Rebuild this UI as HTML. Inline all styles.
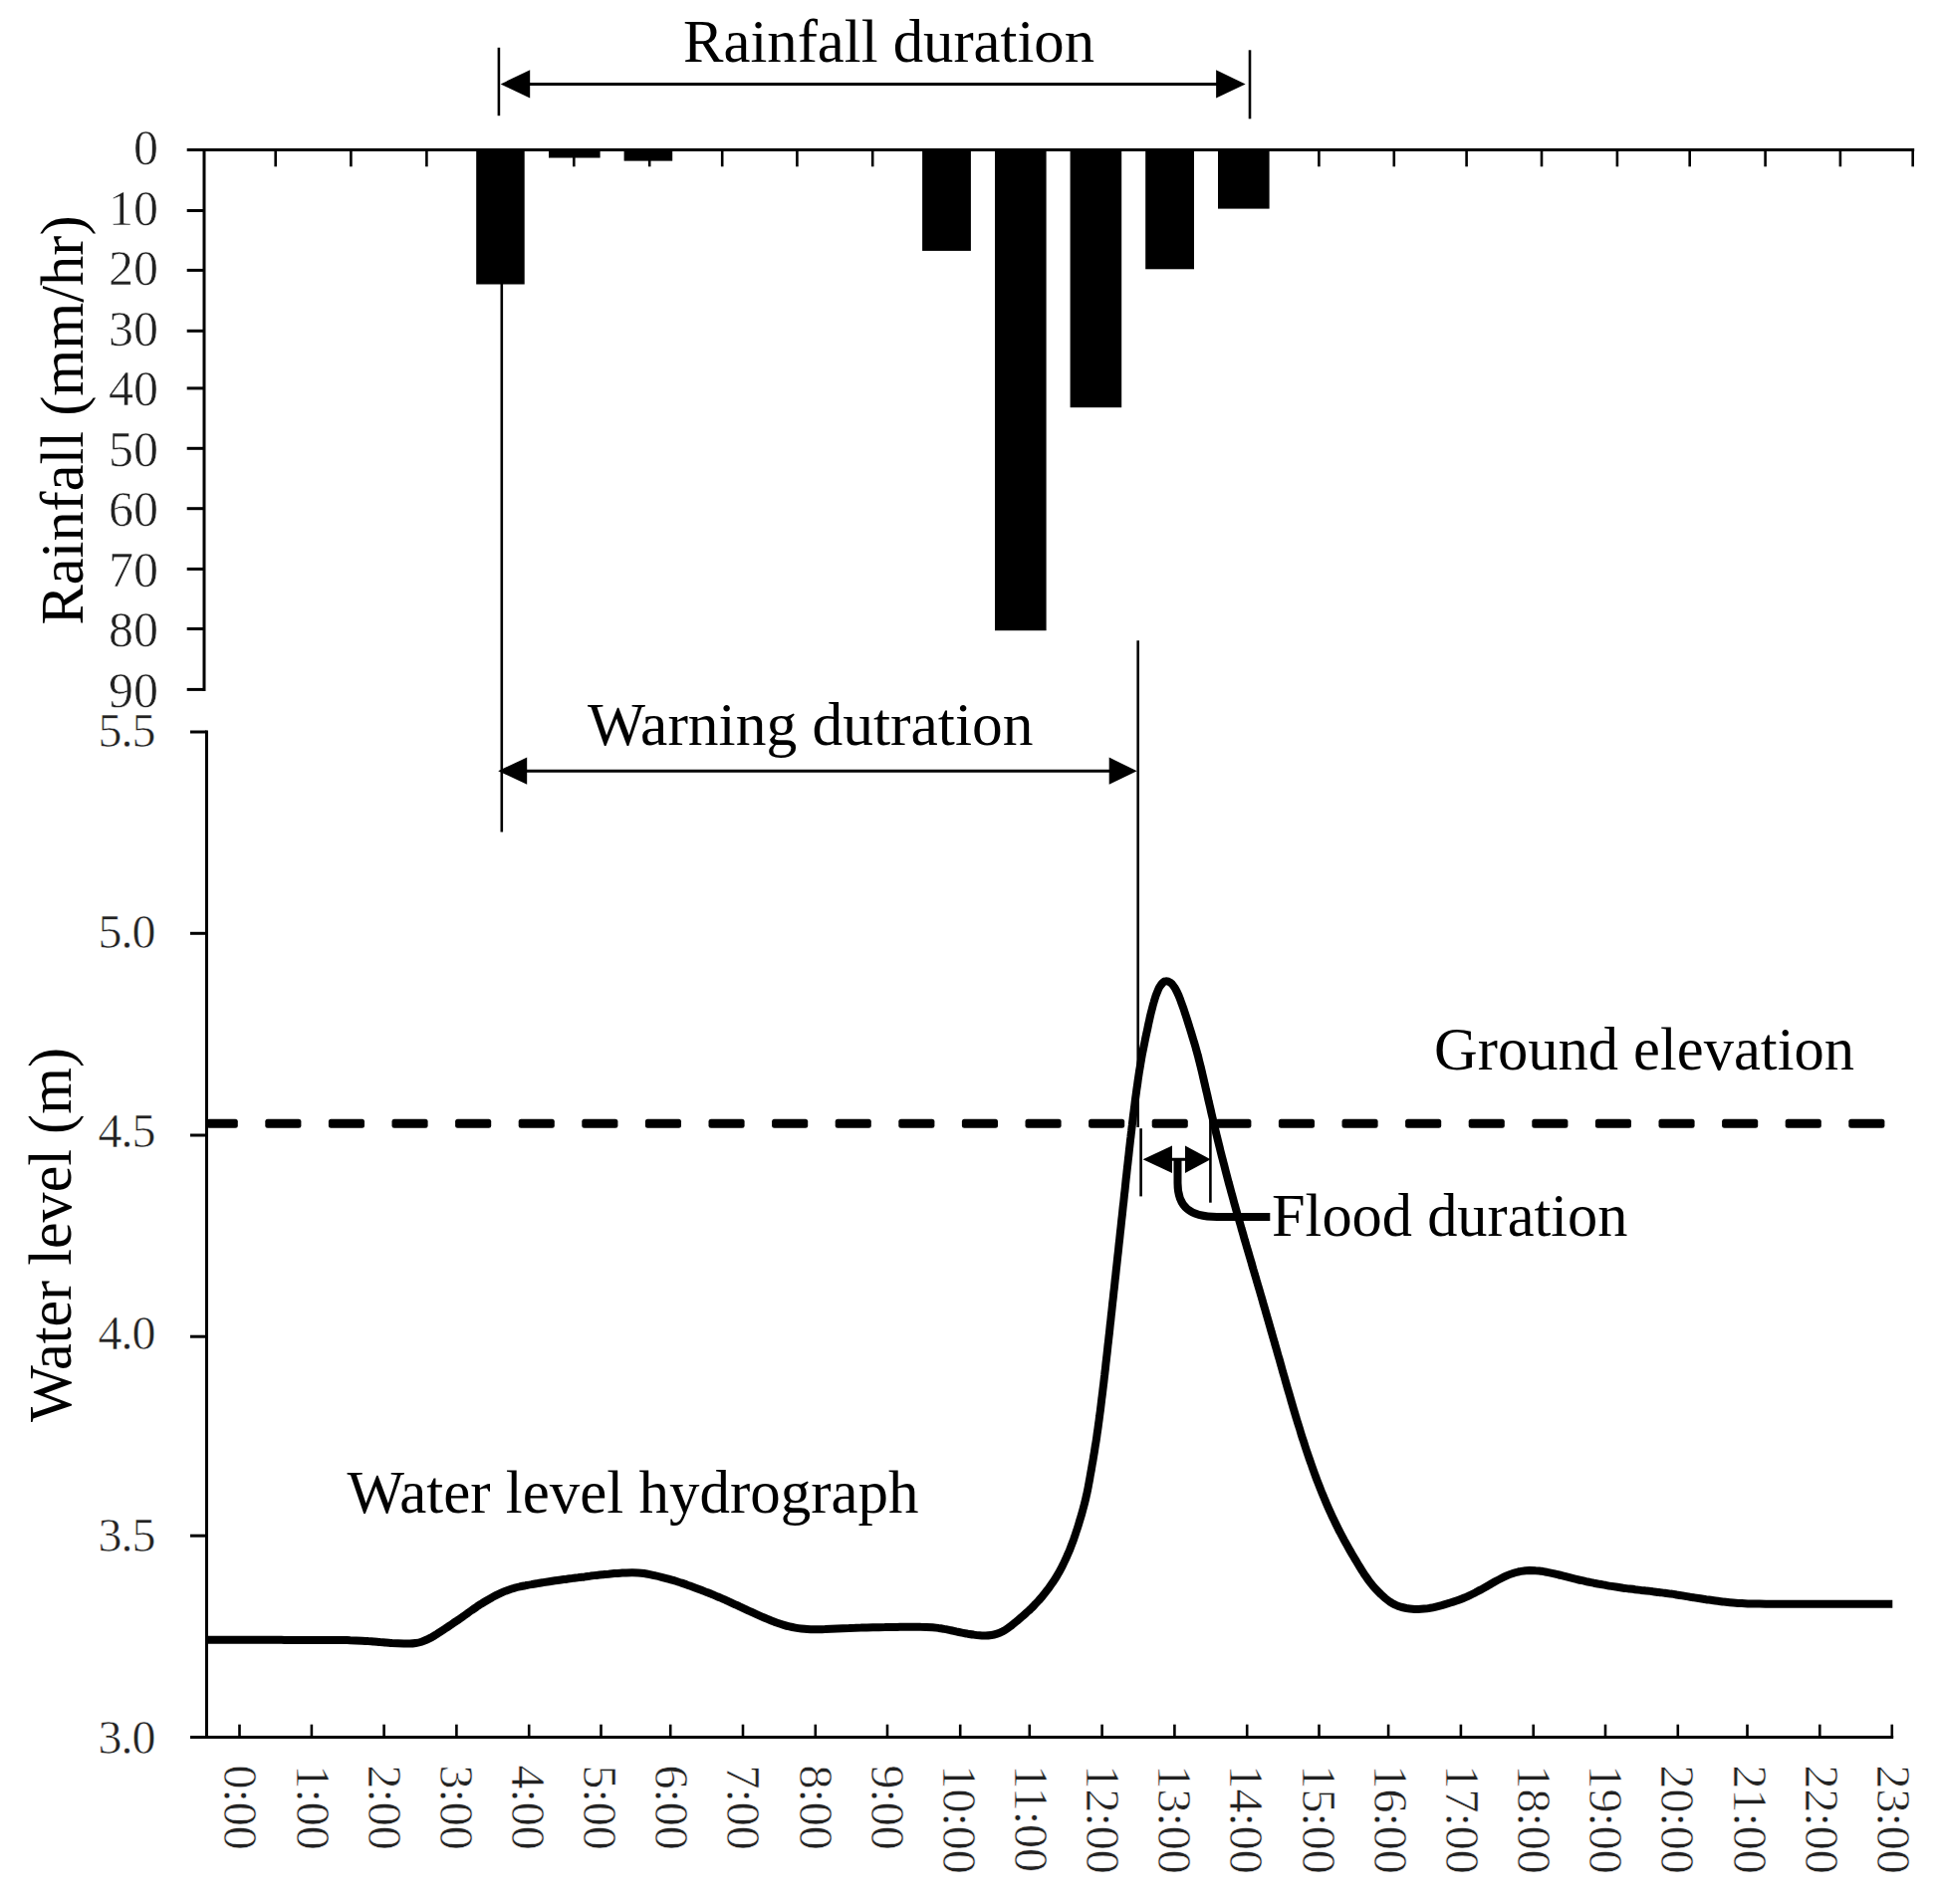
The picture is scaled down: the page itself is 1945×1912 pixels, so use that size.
<!DOCTYPE html>
<html lang="en"><head><meta charset="utf-8"><title>Rainfall and water level hydrograph</title>
<style>html,body{margin:0;padding:0;background:#fff;}body{width:1945px;height:1912px;overflow:hidden;}svg{display:block;}text{font-family:"Liberation Serif",serif;fill:#000;}.big{font-size:61px;}.tk{font-size:50px;}.tk2{font-size:48px;letter-spacing:-1px;}.xl{font-size:48px;}.tk,.tk2,.xl{fill:#222;stroke:#fff;stroke-width:.55px;}.ax{stroke:#000;stroke-width:3;fill:none;}.thin{stroke:#000;stroke-width:2.6;fill:none;}</style></head><body>
<svg width="1945" height="1912" viewBox="0 0 1945 1912">
<rect width="1945" height="1912" fill="#fff"/>
<g class="ax">
<path d="M187.7 150.6H1922.2"/>
<path d="M205.0 150.6V693.9"/>
<path d="M187.7 211.5H205.0"/>
<path d="M187.7 271.4H205.0"/>
<path d="M187.7 332.3H205.0"/>
<path d="M187.7 389.9H205.0"/>
<path d="M187.7 450.3H205.0"/>
<path d="M187.7 510.7H205.0"/>
<path d="M187.7 571.4H205.0"/>
<path d="M187.7 631.5H205.0"/>
<path d="M187.7 692.4H205.0"/>
</g>
<g class="thin">
<path d="M276.7 150.6V167.3"/>
<path d="M352.4 150.6V167.3"/>
<path d="M428.4 150.6V167.3"/>
<path d="M502.5 150.6V167.3"/>
<path d="M576.3 150.6V167.3"/>
<path d="M652.2 150.6V167.3"/>
<path d="M725.2 150.6V167.3"/>
<path d="M800.4 150.6V167.3"/>
<path d="M876.2 150.6V167.3"/>
<path d="M950.5 150.6V167.3"/>
<path d="M1025.0 150.6V167.3"/>
<path d="M1100.0 150.6V167.3"/>
<path d="M1174.6 150.6V167.3"/>
<path d="M1249.0 150.6V167.3"/>
<path d="M1324.4 150.6V167.3"/>
<path d="M1399.8 150.6V167.3"/>
<path d="M1472.6 150.6V167.3"/>
<path d="M1548.0 150.6V167.3"/>
<path d="M1623.9 150.6V167.3"/>
<path d="M1696.7 150.6V167.3"/>
<path d="M1772.6 150.6V167.3"/>
<path d="M1847.9 150.6V167.3"/>
<path d="M1920.7 150.6V167.3"/>
</g>
<rect x="478.2" y="149.1" width="48.5" height="136.4" fill="#000"/>
<rect x="551.0" y="149.1" width="51.6" height="9.4" fill="#000"/>
<rect x="626.6" y="149.1" width="48.6" height="12.5" fill="#000"/>
<rect x="926.1" y="149.1" width="48.8" height="102.8" fill="#000"/>
<rect x="999.0" y="149.1" width="51.6" height="484.1" fill="#000"/>
<rect x="1074.6" y="149.1" width="51.6" height="260.1" fill="#000"/>
<rect x="1150.2" y="149.1" width="48.8" height="121.2" fill="#000"/>
<rect x="1223.0" y="149.1" width="51.6" height="60.5" fill="#000"/>
<text class="tk" x="159" y="165.0" text-anchor="end">0</text>
<text class="tk" x="159" y="225.5" text-anchor="end">10</text>
<text class="tk" x="159" y="286.0" text-anchor="end">20</text>
<text class="tk" x="159" y="346.5" text-anchor="end">30</text>
<text class="tk" x="159" y="407.0" text-anchor="end">40</text>
<text class="tk" x="159" y="467.5" text-anchor="end">50</text>
<text class="tk" x="159" y="528.0" text-anchor="end">60</text>
<text class="tk" x="159" y="588.5" text-anchor="end">70</text>
<text class="tk" x="159" y="649.0" text-anchor="end">80</text>
<text class="tk" x="159" y="709.5" text-anchor="end">90</text>
<text class="big" transform="translate(82.6 422) rotate(-90)" text-anchor="middle" textLength="411" lengthAdjust="spacingAndGlyphs">Rainfall (mm/hr)</text>
<g class="thin">
<path d="M500.9 47.8V116.2"/><path d="M1255 50.3V119.3"/>
<path d="M520 84.4H1235" style="stroke-width:3"/>
</g>
<path d="M502.7 84.4L532.2 70.2L532.2 98.6Z" fill="#000"/>
<path d="M1250.6 84.4L1221.1 70.2L1221.1 98.6Z" fill="#000"/>
<text class="big" x="686" y="62" textLength="413" lengthAdjust="spacingAndGlyphs">Rainfall duration</text>
<g class="thin">
<path d="M503.8 285V835.4"/>
<path d="M1142.7 643.3V1132"/>
<path d="M520 774.2H1125" style="stroke-width:3"/>
</g>
<path d="M500.2 774.2L529.2 760.6L529.2 787.8Z" fill="#000"/>
<path d="M1141.7 774.2L1113.7 760.6L1113.7 787.8Z" fill="#000"/>
<text class="big" x="590" y="748.2" textLength="447.5" lengthAdjust="spacingAndGlyphs">Warning dutration</text>
<g class="ax">
<path d="M207.5 733.5V1744.6"/>
<path d="M191 1744.6H1901.2"/>
<path d="M191 735.0H207.5"/>
<path d="M191 937.3H207.5"/>
<path d="M191 1140.0H207.5"/>
<path d="M191 1342.2H207.5"/>
<path d="M191 1542.2H207.5"/>
</g>
<g class="thin">
<path d="M240.5 1731.7V1744.6"/>
<path d="M312.9 1731.7V1744.6"/>
<path d="M385.6 1731.7V1744.6"/>
<path d="M458.4 1731.7V1744.6"/>
<path d="M531.2 1731.7V1744.6"/>
<path d="M603.5 1731.7V1744.6"/>
<path d="M673.2 1731.7V1744.6"/>
<path d="M746.0 1731.7V1744.6"/>
<path d="M818.8 1731.7V1744.6"/>
<path d="M891.0 1731.7V1744.6"/>
<path d="M964.2 1731.7V1744.6"/>
<path d="M1033.8 1731.7V1744.6"/>
<path d="M1106.6 1731.7V1744.6"/>
<path d="M1179.4 1731.7V1744.6"/>
<path d="M1252.2 1731.7V1744.6"/>
<path d="M1324.5 1731.7V1744.6"/>
<path d="M1394.1 1731.7V1744.6"/>
<path d="M1466.9 1731.7V1744.6"/>
<path d="M1539.7 1731.7V1744.6"/>
<path d="M1612.0 1731.7V1744.6"/>
<path d="M1684.8 1731.7V1744.6"/>
<path d="M1754.5 1731.7V1744.6"/>
<path d="M1827.3 1731.7V1744.6"/>
<path d="M1899.8 1731.7V1744.6"/>
</g>
<text class="tk2" x="155.5" y="749.8" text-anchor="end">5.5</text>
<text class="tk2" x="155.5" y="952.1" text-anchor="end">5.0</text>
<text class="tk2" x="155.5" y="1152.0" text-anchor="end">4.5</text>
<text class="tk2" x="155.5" y="1355.2" text-anchor="end">4.0</text>
<text class="tk2" x="155.5" y="1557.9" text-anchor="end">3.5</text>
<text class="tk2" x="155.5" y="1760.8" text-anchor="end">3.0</text>
<text class="xl" transform="translate(225.3 1772.5) rotate(90)">0:00</text>
<text class="xl" transform="translate(297.5 1772.5) rotate(90)">1:00</text>
<text class="xl" transform="translate(369.6 1772.5) rotate(90)">2:00</text>
<text class="xl" transform="translate(441.8 1772.5) rotate(90)">3:00</text>
<text class="xl" transform="translate(513.9 1772.5) rotate(90)">4:00</text>
<text class="xl" transform="translate(586.0 1772.5) rotate(90)">5:00</text>
<text class="xl" transform="translate(658.2 1772.5) rotate(90)">6:00</text>
<text class="xl" transform="translate(730.4 1772.5) rotate(90)">7:00</text>
<text class="xl" transform="translate(802.5 1772.5) rotate(90)">8:00</text>
<text class="xl" transform="translate(874.7 1772.5) rotate(90)">9:00</text>
<text class="xl" transform="translate(946.8 1772.5) rotate(90)">10:00</text>
<text class="xl" transform="translate(1019.0 1772.5) rotate(90)">11:00</text>
<text class="xl" transform="translate(1091.1 1772.5) rotate(90)">12:00</text>
<text class="xl" transform="translate(1163.2 1772.5) rotate(90)">13:00</text>
<text class="xl" transform="translate(1235.4 1772.5) rotate(90)">14:00</text>
<text class="xl" transform="translate(1307.5 1772.5) rotate(90)">15:00</text>
<text class="xl" transform="translate(1379.7 1772.5) rotate(90)">16:00</text>
<text class="xl" transform="translate(1451.9 1772.5) rotate(90)">17:00</text>
<text class="xl" transform="translate(1524.0 1772.5) rotate(90)">18:00</text>
<text class="xl" transform="translate(1596.2 1772.5) rotate(90)">19:00</text>
<text class="xl" transform="translate(1668.3 1772.5) rotate(90)">20:00</text>
<text class="xl" transform="translate(1740.5 1772.5) rotate(90)">21:00</text>
<text class="xl" transform="translate(1812.6 1772.5) rotate(90)">22:00</text>
<text class="xl" transform="translate(1884.8 1772.5) rotate(90)">23:00</text>
<text class="big" transform="translate(71.4 1240) rotate(-90)" text-anchor="middle" textLength="376" lengthAdjust="spacingAndGlyphs">Water level (m)</text>
<rect x="207.5" y="1123.7" width="31.3" height="9" rx="2.5" fill="#000"/>
<rect x="266.3" y="1123.7" width="36.1" height="9" rx="2.5" fill="#000"/>
<rect x="329.9" y="1123.7" width="36.1" height="9" rx="2.5" fill="#000"/>
<rect x="393.5" y="1123.7" width="36.1" height="9" rx="2.5" fill="#000"/>
<rect x="457.1" y="1123.7" width="36.1" height="9" rx="2.5" fill="#000"/>
<rect x="520.7" y="1123.7" width="36.1" height="9" rx="2.5" fill="#000"/>
<rect x="584.3" y="1123.7" width="36.1" height="9" rx="2.5" fill="#000"/>
<rect x="647.9" y="1123.7" width="36.1" height="9" rx="2.5" fill="#000"/>
<rect x="711.5" y="1123.7" width="36.1" height="9" rx="2.5" fill="#000"/>
<rect x="775.1" y="1123.7" width="36.1" height="9" rx="2.5" fill="#000"/>
<rect x="838.7" y="1123.7" width="36.1" height="9" rx="2.5" fill="#000"/>
<rect x="902.3" y="1123.7" width="36.1" height="9" rx="2.5" fill="#000"/>
<rect x="965.9" y="1123.7" width="36.1" height="9" rx="2.5" fill="#000"/>
<rect x="1029.5" y="1123.7" width="36.1" height="9" rx="2.5" fill="#000"/>
<rect x="1093.1" y="1123.7" width="36.1" height="9" rx="2.5" fill="#000"/>
<rect x="1156.7" y="1123.7" width="36.1" height="9" rx="2.5" fill="#000"/>
<rect x="1220.3" y="1123.7" width="36.1" height="9" rx="2.5" fill="#000"/>
<rect x="1283.9" y="1123.7" width="36.1" height="9" rx="2.5" fill="#000"/>
<rect x="1347.5" y="1123.7" width="36.1" height="9" rx="2.5" fill="#000"/>
<rect x="1411.1" y="1123.7" width="36.1" height="9" rx="2.5" fill="#000"/>
<rect x="1474.7" y="1123.7" width="36.1" height="9" rx="2.5" fill="#000"/>
<rect x="1538.3" y="1123.7" width="36.1" height="9" rx="2.5" fill="#000"/>
<rect x="1601.9" y="1123.7" width="36.1" height="9" rx="2.5" fill="#000"/>
<rect x="1665.5" y="1123.7" width="36.1" height="9" rx="2.5" fill="#000"/>
<rect x="1729.1" y="1123.7" width="36.1" height="9" rx="2.5" fill="#000"/>
<rect x="1792.7" y="1123.7" width="36.1" height="9" rx="2.5" fill="#000"/>
<rect x="1856.3" y="1123.7" width="36.1" height="9" rx="2.5" fill="#000"/>
<path d="M207.6 1646.7C208.7 1646.7 212.4 1646.7 214.5 1646.7C216.5 1646.7 217.9 1646.7 219.8 1646.7C221.7 1646.7 223.7 1646.7 225.7 1646.7C227.7 1646.7 229.7 1646.7 231.7 1646.7C233.7 1646.7 235.7 1646.8 237.7 1646.8C239.7 1646.8 241.7 1646.8 243.7 1646.8C245.7 1646.8 247.7 1646.8 249.7 1646.8C251.7 1646.8 253.7 1646.8 255.7 1646.8C257.7 1646.8 259.7 1646.8 261.7 1646.8C263.7 1646.8 265.7 1646.8 267.7 1646.8C269.7 1646.8 271.7 1646.8 273.7 1646.8C275.7 1646.8 277.7 1646.8 279.7 1646.8C281.7 1646.8 283.7 1646.9 285.7 1646.9C287.7 1646.9 289.7 1646.9 291.7 1646.9C293.7 1646.9 295.7 1646.9 297.7 1646.9C299.7 1646.9 301.7 1646.9 303.7 1646.9C305.7 1646.9 307.7 1646.9 309.7 1646.9C311.7 1646.9 313.7 1646.9 315.7 1646.9C317.7 1646.9 319.7 1646.9 321.7 1646.9C323.7 1646.9 325.7 1646.9 327.7 1646.9C329.7 1646.9 331.7 1646.9 333.7 1646.9C335.7 1646.9 337.7 1646.9 339.7 1646.9C341.7 1646.9 343.7 1647.0 345.7 1647.0C347.7 1647.1 349.7 1647.1 351.7 1647.2C353.7 1647.2 355.7 1647.3 357.7 1647.4C359.7 1647.5 361.7 1647.6 363.7 1647.7C365.7 1647.8 367.7 1647.9 369.7 1648.1C371.7 1648.2 373.7 1648.4 375.7 1648.5C377.6 1648.7 379.6 1648.8 381.6 1649.0C383.6 1649.1 385.6 1649.3 387.6 1649.4C389.6 1649.6 391.6 1649.7 393.6 1649.9C395.6 1650.0 397.6 1650.1 399.6 1650.2C401.6 1650.3 403.6 1650.4 405.6 1650.5C407.6 1650.5 409.6 1650.6 411.5 1650.5C413.5 1650.5 415.5 1650.3 417.4 1650.0C419.4 1649.7 421.3 1649.3 423.2 1648.7C425.0 1648.1 426.9 1647.3 428.7 1646.5C430.5 1645.7 432.2 1644.7 434.0 1643.8C435.7 1642.8 437.4 1641.7 439.1 1640.7C440.8 1639.6 442.5 1638.5 444.2 1637.4C445.8 1636.4 447.5 1635.2 449.2 1634.1C450.8 1633.0 452.5 1631.9 454.1 1630.8C455.8 1629.6 457.4 1628.5 459.1 1627.4C460.7 1626.3 462.4 1625.1 464.0 1624.0C465.6 1622.8 467.3 1621.6 468.9 1620.5C470.5 1619.3 472.1 1618.1 473.8 1617.0C475.4 1615.8 477.0 1614.7 478.7 1613.6C480.4 1612.4 482.0 1611.4 483.7 1610.3C485.4 1609.2 487.1 1608.2 488.8 1607.2C490.6 1606.2 492.3 1605.2 494.1 1604.2C495.8 1603.3 497.6 1602.3 499.4 1601.4C501.2 1600.6 503.0 1599.7 504.8 1598.9C506.6 1598.1 508.5 1597.4 510.4 1596.7C512.2 1596.0 514.1 1595.4 516.0 1594.9C518.0 1594.3 519.9 1593.8 521.8 1593.4C523.8 1592.9 525.8 1592.5 527.7 1592.2C529.7 1591.8 531.6 1591.4 533.6 1591.1C535.6 1590.7 537.6 1590.4 539.5 1590.1C541.5 1589.7 543.5 1589.4 545.4 1589.1C547.4 1588.8 549.4 1588.5 551.4 1588.2C553.4 1587.9 555.3 1587.6 557.3 1587.3C559.3 1587.1 561.3 1586.8 563.3 1586.5C565.2 1586.2 567.2 1586.0 569.2 1585.7C571.2 1585.4 573.2 1585.2 575.1 1584.9C577.1 1584.6 579.1 1584.4 581.1 1584.1C583.1 1583.9 585.1 1583.6 587.1 1583.4C589.0 1583.1 591.0 1582.9 593.0 1582.6C595.0 1582.4 597.0 1582.2 599.0 1581.9C601.0 1581.7 602.9 1581.5 604.9 1581.3C606.9 1581.1 608.9 1580.8 610.9 1580.7C612.9 1580.5 614.9 1580.3 616.9 1580.1C618.9 1580.0 620.9 1579.8 622.9 1579.7C624.8 1579.6 626.8 1579.4 628.8 1579.4C630.8 1579.3 632.8 1579.2 634.8 1579.2C636.8 1579.2 638.8 1579.3 640.8 1579.4C642.8 1579.5 644.8 1579.7 646.7 1580.0C648.7 1580.3 650.7 1580.7 652.6 1581.1C654.6 1581.5 656.5 1581.9 658.5 1582.4C660.4 1582.8 662.4 1583.3 664.3 1583.8C666.2 1584.3 668.2 1584.8 670.1 1585.3C672.0 1585.8 674.0 1586.4 675.9 1586.9C677.8 1587.5 679.7 1588.1 681.6 1588.7C683.5 1589.3 685.4 1590.0 687.3 1590.6C689.2 1591.3 691.1 1591.9 692.9 1592.6C694.8 1593.3 696.7 1594.0 698.6 1594.7C700.5 1595.4 702.3 1596.1 704.2 1596.8C706.1 1597.5 707.9 1598.3 709.8 1599.0C711.6 1599.7 713.5 1600.5 715.4 1601.2C717.2 1602.0 719.1 1602.7 720.9 1603.5C722.7 1604.3 724.6 1605.0 726.4 1605.8C728.3 1606.6 730.1 1607.5 731.9 1608.3C733.7 1609.1 735.5 1610.0 737.3 1610.8C739.2 1611.7 741.0 1612.5 742.8 1613.4C744.6 1614.2 746.4 1615.1 748.2 1615.9C750.0 1616.8 751.8 1617.6 753.7 1618.4C755.5 1619.3 757.3 1620.1 759.1 1620.9C760.9 1621.7 762.8 1622.5 764.6 1623.3C766.4 1624.1 768.3 1624.9 770.1 1625.7C772.0 1626.5 773.8 1627.2 775.7 1627.9C777.5 1628.7 779.4 1629.4 781.3 1630.0C783.2 1630.7 785.1 1631.3 787.0 1631.9C788.9 1632.5 790.8 1633.0 792.8 1633.4C794.7 1633.9 796.7 1634.3 798.6 1634.6C800.6 1635.0 802.6 1635.3 804.6 1635.5C806.5 1635.7 808.5 1635.9 810.5 1636.0C812.5 1636.1 814.5 1636.2 816.5 1636.2C818.5 1636.3 820.5 1636.3 822.5 1636.2C824.5 1636.2 826.5 1636.1 828.5 1636.1C830.5 1636.0 832.5 1635.9 834.5 1635.8C836.5 1635.7 838.5 1635.6 840.5 1635.5C842.5 1635.4 844.5 1635.3 846.5 1635.2C848.5 1635.1 850.5 1635.0 852.5 1635.0C854.5 1634.9 856.5 1634.8 858.5 1634.8C860.5 1634.7 862.5 1634.6 864.5 1634.6C866.5 1634.5 868.5 1634.5 870.5 1634.4C872.5 1634.4 874.5 1634.4 876.5 1634.3C878.5 1634.3 880.5 1634.2 882.5 1634.2C884.5 1634.1 886.5 1634.1 888.5 1634.1C890.5 1634.0 892.5 1634.0 894.5 1634.0C896.5 1633.9 898.5 1633.9 900.5 1633.9C902.5 1633.9 904.5 1633.8 906.5 1633.8C908.5 1633.8 910.5 1633.8 912.5 1633.8C914.5 1633.8 916.5 1633.7 918.5 1633.7C920.5 1633.7 922.5 1633.7 924.5 1633.8C926.5 1633.8 928.5 1633.8 930.4 1633.9C932.4 1634.0 934.4 1634.1 936.4 1634.2C938.4 1634.4 940.4 1634.6 942.4 1634.9C944.4 1635.1 946.3 1635.5 948.3 1635.9C950.2 1636.2 952.2 1636.7 954.2 1637.1C956.1 1637.5 958.1 1637.9 960.0 1638.4C962.0 1638.8 963.9 1639.2 965.9 1639.6C967.8 1640.0 969.8 1640.3 971.8 1640.7C973.7 1641.0 975.7 1641.4 977.7 1641.6C979.7 1641.9 981.7 1642.2 983.6 1642.3C985.6 1642.5 987.6 1642.6 989.6 1642.5C991.6 1642.5 993.5 1642.3 995.5 1642.0C997.4 1641.7 999.3 1641.2 1001.2 1640.6C1003.1 1640.0 1004.9 1639.2 1006.6 1638.4C1008.4 1637.5 1010.1 1636.4 1011.7 1635.3C1013.3 1634.2 1014.9 1632.9 1016.4 1631.7C1018.0 1630.4 1019.5 1629.1 1021.1 1627.9C1022.6 1626.6 1024.1 1625.3 1025.6 1624.0C1027.2 1622.7 1028.7 1621.4 1030.2 1620.0C1031.6 1618.7 1033.1 1617.4 1034.6 1616.0C1036.0 1614.6 1037.4 1613.2 1038.8 1611.7C1040.2 1610.3 1041.6 1608.8 1042.9 1607.4C1044.2 1605.9 1045.5 1604.3 1046.8 1602.8C1048.1 1601.3 1049.3 1599.7 1050.5 1598.1C1051.8 1596.6 1053.0 1595.0 1054.1 1593.3C1055.3 1591.7 1056.4 1590.1 1057.6 1588.4C1058.7 1586.7 1059.7 1585.1 1060.8 1583.3C1061.8 1581.6 1062.8 1579.9 1063.8 1578.2C1064.7 1576.4 1065.7 1574.6 1066.6 1572.9C1067.5 1571.1 1068.4 1569.3 1069.2 1567.5C1070.1 1565.7 1070.9 1563.9 1071.7 1562.0C1072.5 1560.2 1073.3 1558.4 1074.1 1556.5C1074.8 1554.7 1075.5 1552.8 1076.2 1550.9C1076.9 1549.1 1077.6 1547.2 1078.3 1545.3C1078.9 1543.4 1079.6 1541.5 1080.2 1539.6C1080.8 1537.7 1081.5 1535.8 1082.1 1533.9C1082.7 1532.0 1083.3 1530.1 1083.8 1528.2C1084.4 1526.3 1085.0 1524.3 1085.6 1522.4C1086.1 1520.5 1086.7 1518.6 1087.2 1516.6C1087.7 1514.7 1088.2 1512.8 1088.7 1510.9C1089.2 1508.9 1089.7 1507.0 1090.2 1505.0C1090.6 1503.1 1091.0 1501.1 1091.5 1499.2C1091.9 1497.2 1092.3 1495.3 1092.7 1493.3C1093.0 1491.3 1093.4 1489.4 1093.8 1487.4C1094.1 1485.4 1094.5 1483.5 1094.8 1481.5C1095.2 1479.5 1095.5 1477.6 1095.9 1475.6C1096.2 1473.6 1096.6 1471.6 1096.9 1469.7C1097.3 1467.7 1097.6 1465.7 1097.9 1463.8C1098.2 1461.8 1098.6 1459.8 1098.9 1457.8C1099.2 1455.9 1099.5 1453.9 1099.8 1451.9C1100.2 1449.9 1100.5 1448.0 1100.8 1446.0C1101.1 1444.0 1101.4 1442.0 1101.6 1440.1C1101.9 1438.1 1102.2 1436.1 1102.5 1434.1C1102.8 1432.1 1103.0 1430.1 1103.3 1428.2C1103.6 1426.2 1103.8 1424.2 1104.1 1422.2C1104.3 1420.2 1104.6 1418.3 1104.9 1416.3C1105.1 1414.3 1105.4 1412.3 1105.6 1410.3C1105.9 1408.3 1106.1 1406.3 1106.3 1404.4C1106.6 1402.4 1106.8 1400.4 1107.1 1398.4C1107.3 1396.4 1107.5 1394.4 1107.8 1392.4C1108.0 1390.5 1108.3 1388.5 1108.5 1386.5C1108.7 1384.5 1108.9 1382.5 1109.2 1380.5C1109.4 1378.5 1109.6 1376.6 1109.9 1374.6C1110.1 1372.6 1110.3 1370.6 1110.5 1368.6C1110.8 1366.6 1111.0 1364.6 1111.2 1362.6C1111.4 1360.7 1111.7 1358.7 1111.9 1356.7C1112.1 1354.7 1112.3 1352.7 1112.5 1350.7C1112.8 1348.7 1113.0 1346.7 1113.2 1344.8C1113.4 1342.8 1113.6 1340.8 1113.9 1338.8C1114.1 1336.8 1114.3 1334.8 1114.5 1332.8C1114.7 1330.8 1114.9 1328.8 1115.2 1326.9C1115.4 1324.9 1115.6 1322.9 1115.8 1320.9C1116.0 1318.9 1116.3 1316.9 1116.5 1314.9C1116.7 1312.9 1116.9 1311.0 1117.1 1309.0C1117.3 1307.0 1117.6 1305.0 1117.8 1303.0C1118.0 1301.0 1118.2 1299.0 1118.4 1297.0C1118.7 1295.1 1118.9 1293.1 1119.1 1291.1C1119.3 1289.1 1119.5 1287.1 1119.7 1285.1C1120.0 1283.1 1120.2 1281.1 1120.4 1279.1C1120.6 1277.2 1120.8 1275.2 1121.0 1273.2C1121.3 1271.2 1121.5 1269.2 1121.7 1267.2C1121.9 1265.2 1122.1 1263.2 1122.3 1261.3C1122.6 1259.3 1122.8 1257.3 1123.0 1255.3C1123.2 1253.3 1123.4 1251.3 1123.6 1249.3C1123.9 1247.3 1124.1 1245.3 1124.3 1243.4C1124.5 1241.4 1124.7 1239.4 1124.9 1237.4C1125.2 1235.4 1125.4 1233.4 1125.6 1231.4C1125.8 1229.4 1126.0 1227.5 1126.2 1225.5C1126.4 1223.5 1126.7 1221.5 1126.9 1219.5C1127.1 1217.5 1127.3 1215.5 1127.5 1213.5C1127.7 1211.5 1127.9 1209.6 1128.2 1207.6C1128.4 1205.6 1128.6 1203.6 1128.8 1201.6C1129.0 1199.6 1129.2 1197.6 1129.5 1195.6C1129.7 1193.6 1129.9 1191.7 1130.1 1189.7C1130.3 1187.7 1130.5 1185.7 1130.7 1183.7C1131.0 1181.7 1131.2 1179.7 1131.4 1177.7C1131.6 1175.8 1131.8 1173.8 1132.0 1171.8C1132.3 1169.8 1132.5 1167.8 1132.7 1165.8C1132.9 1163.8 1133.1 1161.8 1133.4 1159.8C1133.6 1157.9 1133.8 1155.9 1134.0 1153.9C1134.2 1151.9 1134.5 1149.9 1134.7 1147.9C1134.9 1145.9 1135.1 1143.9 1135.4 1142.0C1135.6 1140.0 1135.8 1138.0 1136.1 1136.0C1136.3 1134.0 1136.5 1132.0 1136.8 1130.0C1137.0 1128.1 1137.2 1126.1 1137.5 1124.1C1137.7 1122.1 1138.0 1120.1 1138.2 1118.1C1138.5 1116.1 1138.7 1114.2 1139.0 1112.2C1139.2 1110.2 1139.5 1108.2 1139.7 1106.2C1140.0 1104.2 1140.2 1102.3 1140.5 1100.3C1140.8 1098.3 1141.1 1096.3 1141.3 1094.3C1141.6 1092.4 1141.9 1090.4 1142.2 1088.4C1142.5 1086.4 1142.7 1084.4 1143.0 1082.5C1143.3 1080.5 1143.6 1078.5 1143.9 1076.5C1144.2 1074.5 1144.6 1072.6 1144.9 1070.6C1145.2 1068.6 1145.5 1066.7 1145.9 1064.7C1146.2 1062.7 1146.6 1060.7 1146.9 1058.8C1147.3 1056.8 1147.7 1054.8 1148.1 1052.9C1148.5 1050.9 1148.9 1049.0 1149.3 1047.0C1149.7 1045.0 1150.1 1043.1 1150.5 1041.1C1150.9 1039.2 1151.3 1037.2 1151.8 1035.3C1152.2 1033.3 1152.6 1031.4 1153.0 1029.4C1153.4 1027.4 1153.9 1025.5 1154.3 1023.5C1154.7 1021.6 1155.1 1019.6 1155.6 1017.7C1156.1 1015.7 1156.6 1013.8 1157.1 1011.9C1157.6 1009.9 1158.1 1008.0 1158.7 1006.1C1159.2 1004.2 1159.8 1002.2 1160.4 1000.4C1161.1 998.5 1161.8 996.6 1162.6 994.8C1163.4 992.9 1164.2 991.0 1165.4 989.5C1166.6 987.9 1168.1 985.9 1169.8 985.5C1171.5 985.0 1173.8 985.8 1175.4 986.8C1176.9 987.7 1178.1 989.7 1179.2 991.3C1180.4 993.0 1181.2 994.8 1182.1 996.6C1183.0 998.4 1183.8 1000.2 1184.5 1002.1C1185.2 1003.9 1185.8 1005.8 1186.5 1007.7C1187.2 1009.6 1187.9 1011.5 1188.6 1013.4C1189.2 1015.3 1189.8 1017.2 1190.5 1019.1C1191.1 1021.0 1191.7 1022.9 1192.3 1024.8C1192.9 1026.7 1193.5 1028.6 1194.1 1030.5C1194.7 1032.4 1195.3 1034.3 1195.9 1036.2C1196.5 1038.1 1197.1 1040.1 1197.6 1042.0C1198.2 1043.9 1198.8 1045.8 1199.4 1047.7C1199.9 1049.6 1200.5 1051.5 1201.0 1053.5C1201.6 1055.4 1202.1 1057.3 1202.6 1059.3C1203.2 1061.2 1203.6 1063.1 1204.1 1065.1C1204.6 1067.0 1205.1 1068.9 1205.6 1070.9C1206.0 1072.8 1206.5 1074.8 1207.0 1076.7C1207.4 1078.7 1207.9 1080.6 1208.3 1082.6C1208.8 1084.5 1209.2 1086.5 1209.7 1088.4C1210.1 1090.4 1210.6 1092.3 1211.0 1094.3C1211.5 1096.2 1211.9 1098.2 1212.4 1100.1C1212.8 1102.1 1213.3 1104.0 1213.7 1106.0C1214.2 1107.9 1214.6 1109.9 1215.1 1111.8C1215.5 1113.8 1216.0 1115.7 1216.4 1117.7C1216.9 1119.6 1217.3 1121.6 1217.8 1123.5C1218.2 1125.4 1218.7 1127.4 1219.1 1129.3C1219.6 1131.3 1220.0 1133.2 1220.5 1135.2C1221.0 1137.1 1221.4 1139.1 1221.9 1141.0C1222.4 1143.0 1222.9 1144.9 1223.3 1146.8C1223.8 1148.8 1224.3 1150.7 1224.8 1152.7C1225.2 1154.6 1225.7 1156.6 1226.2 1158.5C1226.7 1160.4 1227.2 1162.4 1227.7 1164.3C1228.2 1166.2 1228.7 1168.2 1229.2 1170.1C1229.7 1172.1 1230.2 1174.0 1230.7 1175.9C1231.2 1177.9 1231.7 1179.8 1232.2 1181.7C1232.7 1183.7 1233.2 1185.6 1233.7 1187.5C1234.3 1189.5 1234.8 1191.4 1235.3 1193.3C1235.8 1195.3 1236.3 1197.2 1236.9 1199.1C1237.4 1201.0 1237.9 1203.0 1238.5 1204.9C1239.0 1206.8 1239.5 1208.8 1240.1 1210.7C1240.6 1212.6 1241.1 1214.5 1241.7 1216.5C1242.2 1218.4 1242.8 1220.3 1243.3 1222.2C1243.9 1224.2 1244.4 1226.1 1245.0 1228.0C1245.5 1229.9 1246.1 1231.8 1246.6 1233.8C1247.2 1235.7 1247.7 1237.6 1248.3 1239.5C1248.8 1241.5 1249.4 1243.4 1249.9 1245.3C1250.5 1247.2 1251.1 1249.1 1251.6 1251.1C1252.2 1253.0 1252.7 1254.9 1253.3 1256.8C1253.9 1258.7 1254.4 1260.7 1255.0 1262.6C1255.5 1264.5 1256.1 1266.4 1256.7 1268.3C1257.2 1270.3 1257.8 1272.2 1258.3 1274.1C1258.9 1276.0 1259.5 1277.9 1260.0 1279.9C1260.6 1281.8 1261.2 1283.7 1261.7 1285.6C1262.3 1287.5 1262.8 1289.5 1263.4 1291.4C1264.0 1293.3 1264.5 1295.2 1265.1 1297.1C1265.6 1299.1 1266.2 1301.0 1266.8 1302.9C1267.3 1304.8 1267.9 1306.7 1268.4 1308.7C1269.0 1310.6 1269.6 1312.5 1270.1 1314.4C1270.7 1316.3 1271.2 1318.3 1271.8 1320.2C1272.3 1322.1 1272.9 1324.0 1273.4 1325.9C1274.0 1327.9 1274.5 1329.8 1275.1 1331.7C1275.6 1333.6 1276.2 1335.6 1276.7 1337.5C1277.3 1339.4 1277.8 1341.3 1278.4 1343.3C1278.9 1345.2 1279.5 1347.1 1280.0 1349.0C1280.6 1350.9 1281.1 1352.9 1281.7 1354.8C1282.2 1356.7 1282.8 1358.6 1283.3 1360.6C1283.9 1362.5 1284.4 1364.4 1285.0 1366.3C1285.5 1368.3 1286.1 1370.2 1286.6 1372.1C1287.1 1374.0 1287.7 1376.0 1288.2 1377.9C1288.8 1379.8 1289.3 1381.7 1289.9 1383.6C1290.4 1385.6 1291.0 1387.5 1291.5 1389.4C1292.1 1391.3 1292.6 1393.3 1293.2 1395.2C1293.8 1397.1 1294.3 1399.0 1294.9 1400.9C1295.4 1402.9 1296.0 1404.8 1296.5 1406.7C1297.1 1408.6 1297.7 1410.5 1298.2 1412.5C1298.8 1414.4 1299.3 1416.3 1299.9 1418.2C1300.5 1420.1 1301.1 1422.1 1301.6 1424.0C1302.2 1425.9 1302.8 1427.8 1303.4 1429.7C1304.0 1431.6 1304.6 1433.5 1305.2 1435.4C1305.7 1437.4 1306.3 1439.3 1306.9 1441.2C1307.5 1443.1 1308.1 1445.0 1308.8 1446.9C1309.4 1448.8 1310.0 1450.7 1310.6 1452.6C1311.2 1454.5 1311.8 1456.4 1312.5 1458.3C1313.1 1460.2 1313.8 1462.1 1314.4 1464.0C1315.1 1465.9 1315.7 1467.8 1316.4 1469.6C1317.1 1471.5 1317.7 1473.4 1318.4 1475.3C1319.1 1477.2 1319.8 1479.1 1320.4 1480.9C1321.1 1482.8 1321.8 1484.7 1322.5 1486.6C1323.3 1488.4 1324.0 1490.3 1324.7 1492.2C1325.4 1494.0 1326.2 1495.9 1326.9 1497.7C1327.7 1499.6 1328.4 1501.4 1329.2 1503.3C1330.0 1505.1 1330.7 1507.0 1331.5 1508.8C1332.3 1510.6 1333.1 1512.5 1333.9 1514.3C1334.7 1516.1 1335.5 1518.0 1336.4 1519.8C1337.2 1521.6 1338.0 1523.4 1338.9 1525.2C1339.7 1527.0 1340.6 1528.8 1341.5 1530.6C1342.4 1532.4 1343.2 1534.2 1344.1 1536.0C1345.1 1537.8 1346.0 1539.6 1346.9 1541.3C1347.8 1543.1 1348.8 1544.9 1349.7 1546.6C1350.7 1548.4 1351.7 1550.1 1352.7 1551.9C1353.6 1553.6 1354.6 1555.4 1355.6 1557.1C1356.6 1558.8 1357.6 1560.6 1358.6 1562.3C1359.6 1564.0 1360.7 1565.7 1361.7 1567.4C1362.7 1569.2 1363.7 1570.9 1364.8 1572.6C1365.8 1574.3 1366.9 1576.0 1367.9 1577.7C1369.0 1579.4 1370.1 1581.0 1371.2 1582.7C1372.4 1584.3 1373.5 1586.0 1374.7 1587.6C1375.9 1589.2 1377.1 1590.7 1378.4 1592.3C1379.7 1593.8 1381.0 1595.3 1382.4 1596.8C1383.7 1598.2 1385.1 1599.6 1386.6 1601.0C1388.0 1602.4 1389.5 1603.7 1391.0 1605.0C1392.6 1606.3 1394.1 1607.5 1395.8 1608.6C1397.4 1609.7 1399.1 1610.7 1400.9 1611.5C1402.7 1612.4 1404.5 1613.1 1406.4 1613.6C1408.3 1614.2 1410.2 1614.6 1412.2 1615.0C1414.1 1615.3 1416.1 1615.6 1418.1 1615.7C1420.1 1615.9 1422.1 1615.9 1424.1 1615.9C1426.0 1615.9 1428.0 1615.8 1430.0 1615.6C1432.0 1615.5 1434.0 1615.2 1435.9 1614.8C1437.9 1614.5 1439.8 1614.1 1441.8 1613.6C1443.7 1613.1 1445.7 1612.6 1447.6 1612.1C1449.5 1611.5 1451.4 1610.9 1453.3 1610.4C1455.2 1609.8 1457.2 1609.2 1459.1 1608.6C1461.0 1608.0 1462.9 1607.4 1464.7 1606.7C1466.6 1606.0 1468.5 1605.3 1470.3 1604.5C1472.2 1603.8 1474.0 1602.9 1475.8 1602.1C1477.6 1601.3 1479.4 1600.4 1481.2 1599.5C1483.0 1598.6 1484.7 1597.6 1486.5 1596.7C1488.3 1595.7 1490.0 1594.7 1491.7 1593.8C1493.5 1592.8 1495.2 1591.7 1496.9 1590.7C1498.7 1589.8 1500.4 1588.7 1502.1 1587.8C1503.9 1586.8 1505.6 1585.9 1507.4 1585.0C1509.2 1584.1 1511.0 1583.2 1512.8 1582.4C1514.7 1581.6 1516.5 1580.9 1518.4 1580.3C1520.3 1579.6 1522.2 1579.0 1524.1 1578.6C1526.0 1578.1 1528.0 1577.7 1530.0 1577.5C1531.9 1577.2 1533.9 1577.1 1535.9 1577.0C1537.9 1577.0 1539.9 1577.0 1541.9 1577.2C1543.8 1577.3 1545.8 1577.6 1547.8 1577.8C1549.8 1578.1 1551.7 1578.5 1553.7 1578.9C1555.6 1579.3 1557.6 1579.7 1559.6 1580.1C1561.5 1580.6 1563.4 1581.0 1565.4 1581.5C1567.3 1582.0 1569.3 1582.4 1571.2 1582.9C1573.2 1583.4 1575.1 1583.9 1577.0 1584.4C1579.0 1584.9 1580.9 1585.4 1582.9 1585.8C1584.8 1586.3 1586.7 1586.8 1588.7 1587.2C1590.7 1587.6 1592.6 1588.1 1594.6 1588.5C1596.5 1588.9 1598.5 1589.3 1600.4 1589.7C1602.4 1590.0 1604.4 1590.4 1606.3 1590.8C1608.3 1591.1 1610.3 1591.5 1612.2 1591.8C1614.2 1592.2 1616.2 1592.6 1618.2 1592.9C1620.1 1593.2 1622.1 1593.5 1624.1 1593.8C1626.0 1594.1 1628.0 1594.4 1630.0 1594.7C1632.0 1595.0 1634.0 1595.2 1636.0 1595.5C1637.9 1595.7 1639.9 1595.9 1641.9 1596.2C1643.9 1596.4 1645.9 1596.6 1647.9 1596.9C1649.9 1597.1 1651.8 1597.3 1653.8 1597.6C1655.8 1597.8 1657.8 1598.0 1659.8 1598.3C1661.8 1598.5 1663.8 1598.8 1665.7 1599.0C1667.7 1599.2 1669.7 1599.5 1671.7 1599.7C1673.7 1600.0 1675.7 1600.3 1677.6 1600.6C1679.6 1600.8 1681.6 1601.1 1683.6 1601.5C1685.6 1601.8 1687.5 1602.1 1689.5 1602.4C1691.5 1602.8 1693.4 1603.1 1695.4 1603.4C1697.4 1603.8 1699.4 1604.1 1701.3 1604.4C1703.3 1604.7 1705.3 1605.0 1707.3 1605.3C1709.2 1605.6 1711.2 1605.9 1713.2 1606.2C1715.2 1606.5 1717.2 1606.7 1719.1 1607.0C1721.1 1607.3 1723.1 1607.6 1725.1 1607.8C1727.1 1608.1 1729.1 1608.3 1731.0 1608.6C1733.0 1608.8 1735.0 1609.0 1737.0 1609.2C1739.0 1609.4 1741.0 1609.6 1743.0 1609.7C1745.0 1609.9 1747.0 1610.0 1749.0 1610.1C1751.0 1610.2 1753.0 1610.3 1755.0 1610.4C1757.0 1610.4 1759.0 1610.5 1761.0 1610.5C1763.0 1610.5 1765.0 1610.6 1767.0 1610.6C1769.0 1610.6 1771.0 1610.6 1773.0 1610.7C1774.9 1610.7 1776.9 1610.7 1778.9 1610.7C1780.9 1610.7 1782.9 1610.7 1784.9 1610.7C1786.9 1610.7 1788.9 1610.7 1790.9 1610.7C1792.9 1610.8 1794.9 1610.8 1796.9 1610.8C1798.9 1610.8 1800.9 1610.8 1802.9 1610.8C1804.9 1610.8 1806.9 1610.8 1808.9 1610.8C1810.9 1610.8 1812.9 1610.8 1814.9 1610.8C1816.9 1610.8 1818.9 1610.8 1820.9 1610.8C1822.9 1610.8 1824.9 1610.8 1826.9 1610.8C1828.9 1610.8 1830.9 1610.8 1832.9 1610.8C1834.9 1610.8 1836.9 1610.8 1838.9 1610.8C1840.9 1610.8 1842.9 1610.8 1844.9 1610.8C1846.9 1610.8 1848.9 1610.8 1850.9 1610.8C1852.9 1610.8 1854.9 1610.8 1856.9 1610.8C1858.9 1610.8 1860.9 1610.8 1862.9 1610.8C1864.9 1610.8 1866.9 1610.8 1868.9 1610.8C1870.9 1610.8 1873.0 1610.8 1874.9 1610.8C1876.9 1610.8 1879.0 1610.8 1880.9 1610.8C1882.9 1610.8 1885.0 1610.8 1886.9 1610.8C1888.8 1610.8 1890.7 1610.8 1892.4 1610.8C1894.0 1610.8 1895.3 1610.8 1896.6 1610.8C1898.0 1610.8 1899.7 1610.8 1900.3 1610.8" fill="none" stroke="#000" stroke-width="8" stroke-linejoin="round"/>
<g class="thin">
<path d="M1145.6 1133.2V1201.4"/><path d="M1215.4 1122V1207.7"/>
<path d="M1165 1164.3H1200" style="stroke-width:3"/>
</g>
<path d="M1147.6 1164.3L1177.0 1150.5L1177.0 1178.1Z" fill="#000"/>
<path d="M1215.6 1164.3L1190.0 1150.5L1190.0 1178.1Z" fill="#000"/>
<path d="M1182.5 1164V1188C1182.5 1212 1195 1222 1222 1222H1275.3" fill="none" stroke="#000" stroke-width="8"/>
<text class="big" x="1277" y="1240.6" textLength="357.5" lengthAdjust="spacingAndGlyphs">Flood duration</text>
<text class="big" x="1440" y="1074.3" textLength="422" lengthAdjust="spacingAndGlyphs">Ground elevation</text>
<text class="big" x="348.5" y="1518.7" textLength="574" lengthAdjust="spacingAndGlyphs">Water level hydrograph</text>
</svg></body></html>
